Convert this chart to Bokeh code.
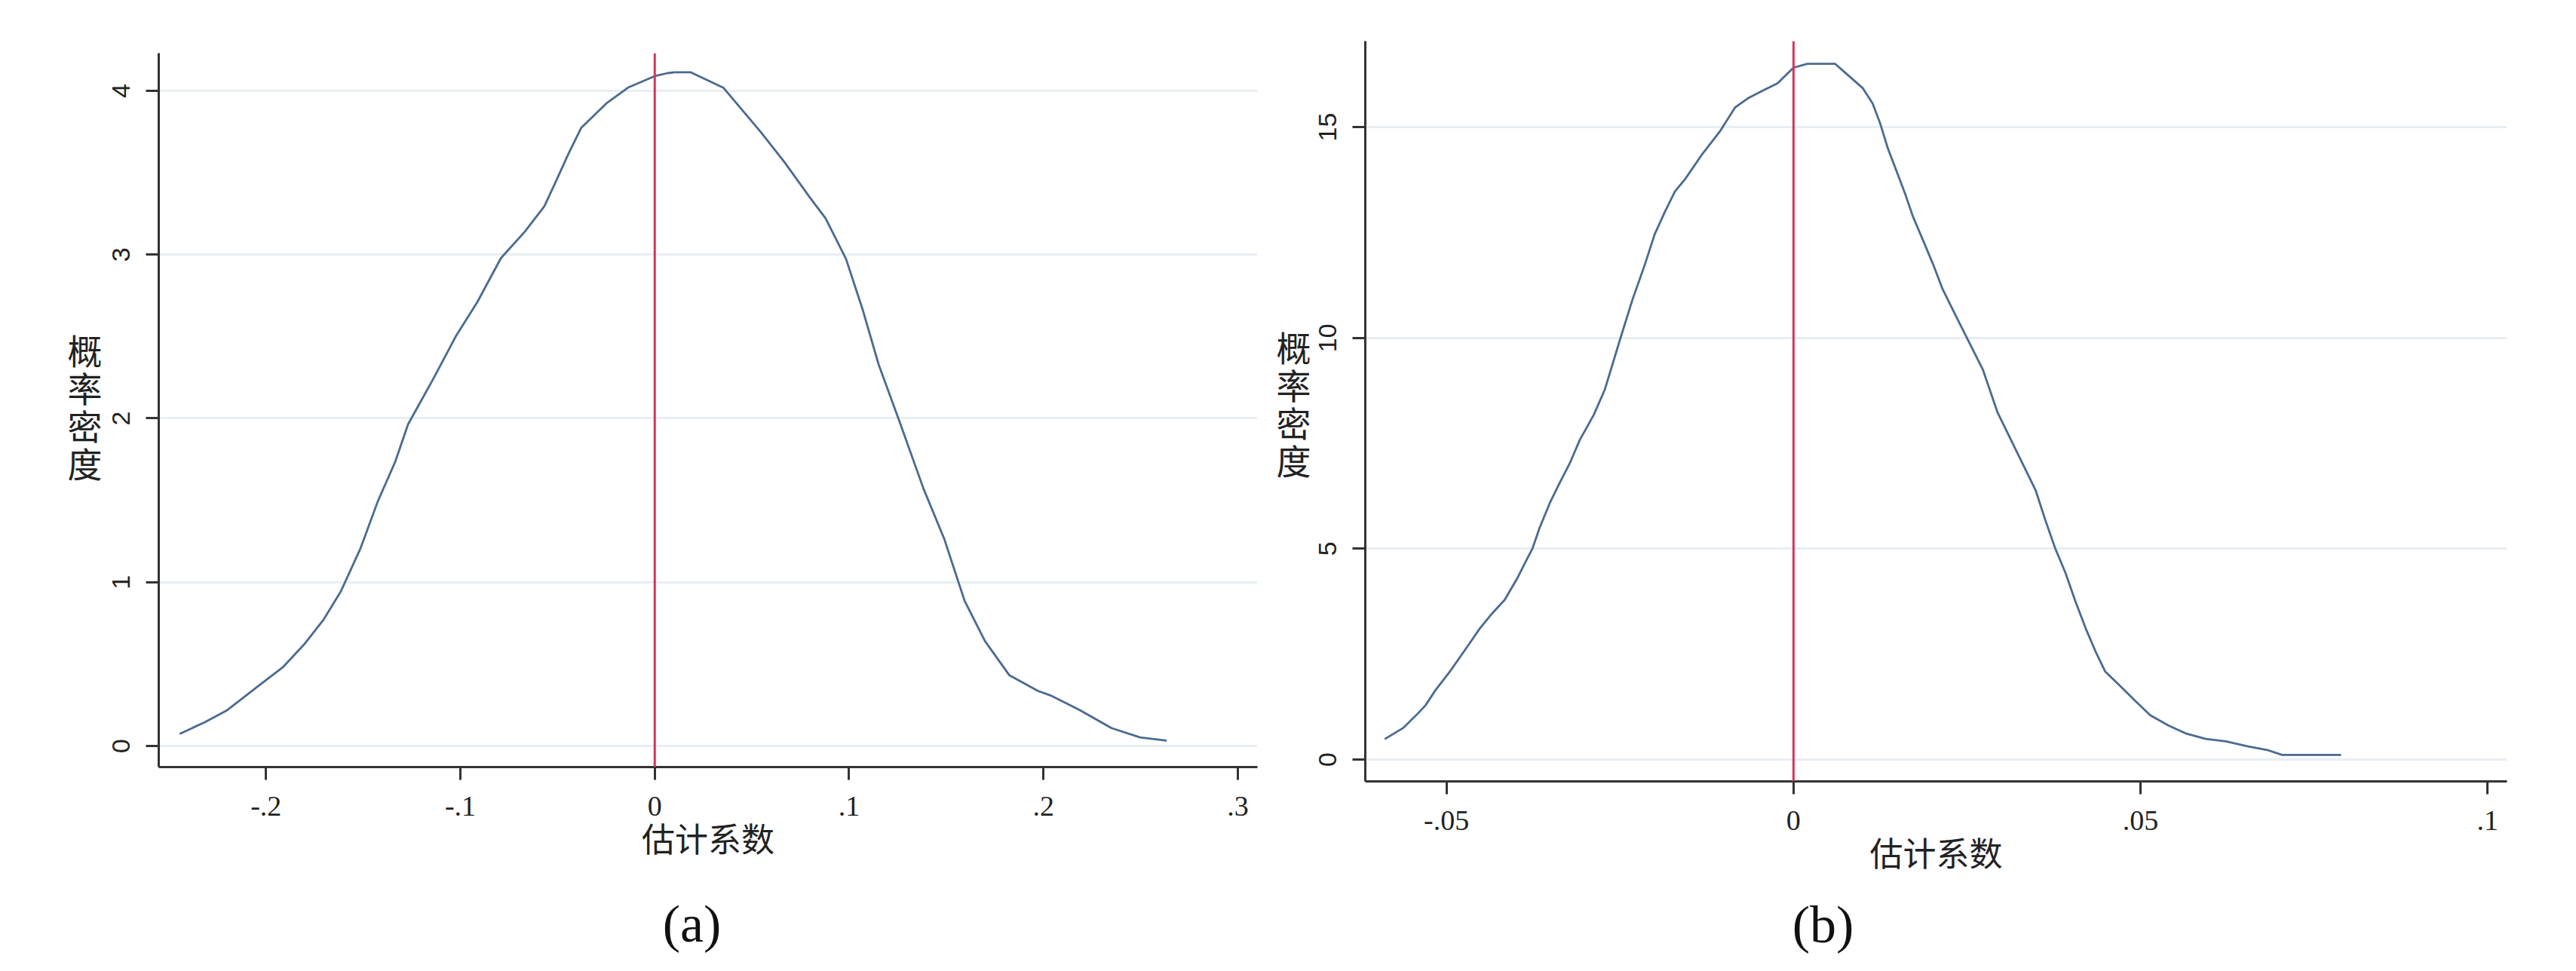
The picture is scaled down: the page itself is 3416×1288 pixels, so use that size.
from jinja2 import Template
from bokeh.plotting import figure
from bokeh.models import Range1d, FixedTicker, Span, CustomJSTickFormatter
from bokeh.core.properties import value
from bokeh.embed import file_html
from bokeh.resources import INLINE

# ---------------- data ----------------
# panel (a): kernel density of estimated coefficients
x_a = [-0.2444, -0.2315, -0.2203, -0.2048, -0.1914, -0.1803, -0.1703, -0.1614, -0.1513,
       -0.1425, -0.1335, -0.1269, -0.1135, -0.1024, -0.0913, -0.0791, -0.0668, -0.0568,
       -0.0512, -0.0446, -0.0379, -0.0245, -0.0134, 0.0, 0.0066, 0.0102, 0.0186, 0.0354,
       0.0543, 0.0669, 0.0795, 0.0879, 0.0984, 0.1068, 0.1152, 0.1257, 0.1383, 0.1489,
       0.1594, 0.1699, 0.1825, 0.1972, 0.2035, 0.2182, 0.2350, 0.2497, 0.2634]
y_a = [0.074, 0.145, 0.216, 0.358, 0.480, 0.621, 0.773, 0.946, 1.209,
       1.493, 1.736, 1.964, 2.251, 2.500, 2.710, 2.979, 3.141, 3.295,
       3.438, 3.610, 3.773, 3.927, 4.022, 4.090, 4.108, 4.113, 4.113, 4.018,
       3.752, 3.562, 3.354, 3.221, 2.974, 2.671, 2.329, 1.988, 1.570, 1.266,
       0.887, 0.640, 0.431, 0.336, 0.309, 0.222, 0.109, 0.052, 0.033]

# panel (b)
x_b = [-0.0589, -0.0562, -0.0542, -0.0530, -0.0517, -0.0495, -0.0481, -0.0467, -0.0452,
       -0.0434, -0.0416, -0.0398, -0.0387, -0.0376, -0.0366, -0.0351, -0.0337, -0.0322,
       -0.0308, -0.0288, -0.0272, -0.0250, -0.0232, -0.0214, -0.0200, -0.0185, -0.0171,
       -0.0156, -0.0131, -0.0106, -0.0084, -0.0066, -0.0045, -0.0023, 0.0, 0.0020, 0.0060,
       0.0080, 0.0100, 0.0114, 0.0125, 0.0136, 0.0150, 0.0161, 0.0172, 0.0186, 0.0201,
       0.0215, 0.0233, 0.0251, 0.0273, 0.0294, 0.0349, 0.0363, 0.0377, 0.0392, 0.0406,
       0.0421, 0.0435, 0.0449, 0.0471, 0.0493, 0.0514, 0.0540, 0.0565, 0.0594, 0.0623,
       0.0655, 0.0684, 0.0704, 0.0789]
y_b = [0.486, 0.754, 1.08, 1.29, 1.62, 2.09, 2.42, 2.75, 3.11,
       3.47, 3.79, 4.30, 4.66, 5.01, 5.49, 6.09, 6.56, 7.04,
       7.58, 8.17, 8.77, 9.96, 10.91, 11.75, 12.46, 13.00, 13.47,
       13.77, 14.37, 14.90, 15.47, 15.68, 15.86, 16.04, 16.41, 16.50, 16.50,
       16.21, 15.92, 15.56, 15.08, 14.49, 13.89, 13.41, 12.88, 12.34, 11.75,
       11.15, 10.55, 9.96, 9.24, 8.23, 6.38, 5.67, 5.01, 4.42, 3.76,
       3.11, 2.57, 2.09, 1.74, 1.38, 1.05, 0.81, 0.62, 0.49, 0.43,
       0.31, 0.22, 0.11, 0.11]

ref_line = 0.0

x_ticks_a = [-0.2, -0.1, 0.0, 0.1, 0.2, 0.3]
x_labels_a = ["-.2", "-.1", "0", ".1", ".2", ".3"]
y_ticks_a = [0, 1, 2, 3, 4]
y_labels_a = ["0", "1", "2", "3", "4"]

x_ticks_b = [-0.05, 0.0, 0.05, 0.1]
x_labels_b = ["-.05", "0", ".05", ".1"]
y_ticks_b = [0, 5, 10, 15]
y_labels_b = ["0", "5", "10", "15"]

x_title = "估计系数"
y_title = "概率密度"
captions = ["(a)", "(b)"]

# ---------------- styling ----------------
CURVE = "#4a6b8f"
RED = "#d8345f"
AXIS = "#333333"
GRID = "#e8eef2"
CJK = "Noto Sans CJK SC"
PAGE_W, PAGE_H = 3410, 1280

FMT_CODE = """
let best = 0, bd = Infinity;
for (let i = 0; i < tvals.length; i++) {
  const d = Math.abs(tvals[i] - tick);
  if (d < bd) { bd = d; best = i; }
}
return tlabs[best];
"""


def make_panel(xs, ys, xr, yr, xt, xl, yt, yl, width, height, bl, br, bt, bb):
    p = figure(width=width, height=height, output_backend="svg", toolbar_location=None,
               title=None, x_range=Range1d(*xr), y_range=Range1d(*yr),
               min_border_left=bl, min_border_right=br, min_border_top=bt, min_border_bottom=bb)
    p.background_fill_color = "white"
    p.border_fill_color = "white"
    p.outline_line_color = None

    p.xgrid.visible = False
    p.ygrid.grid_line_color = GRID
    p.ygrid.grid_line_width = 3
    p.ygrid.ticker = FixedTicker(ticks=yt)

    for ax in (p.xaxis[0], p.yaxis[0]):
        ax.axis_line_color = AXIS
        ax.axis_line_width = 3
        ax.major_tick_line_color = AXIS
        ax.major_tick_line_width = 3
        ax.major_tick_in = 0
        ax.major_tick_out = 17
        ax.minor_tick_line_color = None
        ax.major_label_text_color = "#222222"

    p.xaxis.ticker = FixedTicker(ticks=xt)
    p.xaxis.formatter = CustomJSTickFormatter(args=dict(tvals=xt, tlabs=xl), code=FMT_CODE)
    p.xaxis.major_label_text_font = "Liberation Serif"
    p.xaxis.major_label_text_font_size = "38px"
    p.xaxis.major_label_standoff = 22
    p.xaxis.axis_label = x_title
    p.xaxis.axis_label_text_font = CJK
    p.xaxis.axis_label_text_font_size = "44px"
    p.xaxis.axis_label_text_font_style = "normal"
    p.xaxis.axis_label_text_color = "#222222"
    p.xaxis.axis_label_standoff = -6

    p.yaxis.ticker = FixedTicker(ticks=yt)
    p.yaxis.formatter = CustomJSTickFormatter(args=dict(tvals=yt, tlabs=yl), code=FMT_CODE)
    p.yaxis.major_label_orientation = "vertical"
    p.yaxis.major_label_text_font = "Liberation Sans"
    p.yaxis.major_label_text_font_size = "34px"
    p.yaxis.major_label_standoff = 21

    p.line(xs, ys, line_color=CURVE, line_width=2.8)
    p.add_layout(Span(location=ref_line, dimension="height", line_color=RED, line_width=3))
    return p


# panel canvases (page pixels): (a) at x 0..1700, (b) at x 1700..3410
pa = make_panel(x_a, y_a, (-0.2552, 0.3101), (-0.129, 4.230), x_ticks_a, x_labels_a,
                y_ticks_a, y_labels_a, width=1700, height=1210,
                bl=210, br=33, bt=70, bb=193)
pb = make_panel(x_b, y_b, (-0.0617, 0.1028), (-0.518, 17.04), x_ticks_b, x_labels_b,
                y_ticks_b, y_labels_b, width=1710, height=1210,
                bl=110, br=86, bt=54, bb=174)

# transparent overlay carrying the texts that sit outside the plot frames
ov = figure(width=PAGE_W, height=PAGE_H, output_backend="svg", toolbar_location=None,
            title=None, x_axis_location=None, y_axis_location=None,
            x_range=Range1d(0, PAGE_W), y_range=Range1d(PAGE_H, 0), min_border=0)
ov.background_fill_alpha = 0
ov.border_fill_alpha = 0
ov.outline_line_color = None
ov.grid.visible = False

yt_x, yt_y, yt_t = [], [], []
for cx, cy0 in ((112, 462), (1715, 458)):
    for i, ch in enumerate(y_title):
        yt_x.append(cx)
        yt_y.append(cy0 + i * 50)
        yt_t.append(ch)
ov.text(x=yt_x, y=yt_y, text=yt_t, text_font=value(CJK), text_font_size="46px",
        text_align="center", text_baseline="middle", text_color="#222222")
ov.text(x=[917, 2417], y=[1225, 1226], text=captions, text_font=value("Liberation Serif"),
        text_font_size="70px", text_align="center", text_baseline="middle",
        text_color="#111111")

TEMPLATE = Template("""{% extends base %}
{% block contents %}
{% from macros import embed %}
{% for doc in docs %}
{% for root in doc.roots %}
<div style="position:absolute; left:{{ lefts[loop.index0] }}px; top:{{ tops[loop.index0] }}px;">
{{ embed(root) }}
</div>
{% endfor %}
{% endfor %}
{% endblock %}
""")

html = file_html([pa, pb, ov], INLINE, template=TEMPLATE,
                 template_variables=dict(lefts=[0, 1700, 0], tops=[0, 0, 0]))
open("out.html", "w").write(html)
